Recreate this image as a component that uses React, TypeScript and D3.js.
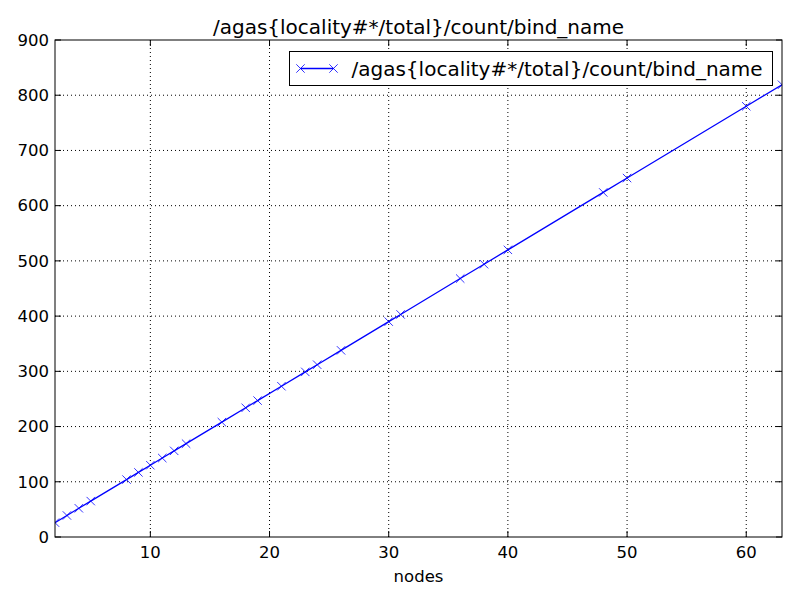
import { useRef, useEffect } from 'react'
import * as d3 from 'd3'

const nodes = [2, 3, 4, 5, 8, 9, 10, 11, 12, 13, 16, 18, 19, 21, 23, 24, 26, 30, 31, 36, 38, 40, 48, 50, 60, 63]
const counts = [26, 39, 52, 65, 104, 117, 130, 143, 156, 169, 208, 234, 247, 273, 299, 312, 338, 390, 403, 468, 494, 520, 624, 650, 780, 819]
const xTicks = [10, 20, 30, 40, 50, 60]
const yTicks = [0, 100, 200, 300, 400, 500, 600, 700, 800, 900]
const seriesName = '/agas{locality#*/total}/count/bind_name'

const App = () => {
  const svgRef = useRef<SVGSVGElement>(null)

  useEffect(() => {
    if (!svgRef.current) return
    const svg = d3.select(svgRef.current)
    svg.selectAll('*').remove()

    const width = 800
    const height = 600
    const margin = { top: 40, right: 18, bottom: 63, left: 55 }
    const w = width - margin.left - margin.right
    const h = height - margin.top - margin.bottom
    const font = 'DejaVu Sans, sans-serif'

    svg.attr('width', width).attr('height', height)
    svg.append('rect').attr('width', width).attr('height', height).attr('fill', '#fff')

    const x = d3.scaleLinear().domain([2, 63]).range([0, w])
    const y = d3.scaleLinear().domain([0, 900]).range([h, 0])

    const g = svg.append('g').attr('transform', `translate(${margin.left},${margin.top})`)

    // grid
    g.selectAll('.gx')
      .data(xTicks)
      .join('line')
      .attr('x1', d => x(d)).attr('x2', d => x(d))
      .attr('y1', 0).attr('y2', h)
      .attr('stroke', '#000').attr('stroke-width', 1)
      .attr('stroke-dasharray', '1,3')
    g.selectAll('.gy')
      .data(yTicks.slice(1, -1))
      .join('line')
      .attr('y1', d => y(d)).attr('y2', d => y(d))
      .attr('x1', 0).attr('x2', w)
      .attr('stroke', '#000').attr('stroke-width', 1)
      .attr('stroke-dasharray', '1,3')

    // series
    const pts = nodes.map((n, i) => [n, counts[i]] as [number, number])
    const clip = g.append('clipPath').attr('id', 'clip')
    clip.append('rect').attr('width', w).attr('height', h)
    const plot = g.append('g').attr('clip-path', 'url(#clip)')
    plot.append('path')
      .datum(pts)
      .attr('d', d3.line<[number, number]>().x(d => x(d[0])).y(d => y(d[1])))
      .attr('fill', 'none')
      .attr('stroke', '#0000ff')
      .attr('stroke-width', 1.3)
    const m = 4.2
    plot.selectAll('.mk')
      .data(pts)
      .join('path')
      .attr('d', d => {
        const cx = x(d[0]); const cy = y(d[1])
        return `M${cx - m},${cy - m}L${cx + m},${cy + m}M${cx - m},${cy + m}L${cx + m},${cy - m}`
      })
      .attr('stroke', '#0000ff')
      .attr('stroke-width', 0.8)

    // ticks (inside, all sides)
    const tl = 6
    xTicks.forEach(t => {
      g.append('line').attr('x1', x(t)).attr('x2', x(t)).attr('y1', h).attr('y2', h - tl).attr('stroke', '#000')
      g.append('line').attr('x1', x(t)).attr('x2', x(t)).attr('y1', 0).attr('y2', tl).attr('stroke', '#000')
      g.append('text').attr('x', x(t)).attr('y', h + 21)
        .attr('text-anchor', 'middle').attr('font-family', font).attr('font-size', 16.5).text(t)
    })
    yTicks.forEach(t => {
      g.append('line').attr('x1', 0).attr('x2', tl).attr('y1', y(t)).attr('y2', y(t)).attr('stroke', '#000')
      g.append('line').attr('x1', w).attr('x2', w - tl).attr('y1', y(t)).attr('y2', y(t)).attr('stroke', '#000')
      g.append('text').attr('x', -6).attr('y', y(t)).attr('dy', '0.35em')
        .attr('text-anchor', 'end').attr('font-family', font).attr('font-size', 16.5).text(t)
    })

    g.append('rect').attr('width', w).attr('height', h)
      .attr('fill', 'none').attr('stroke', '#000').attr('stroke-width', 1)

    // labels
    svg.append('text').attr('x', margin.left + w / 2).attr('y', 34)
      .attr('text-anchor', 'middle').attr('font-family', font).attr('font-size', 20).text(seriesName)
    svg.append('text').attr('x', margin.left + w / 2).attr('y', 582)
      .attr('text-anchor', 'middle').attr('font-family', font).attr('font-size', 16.5).text('nodes')

    // legend
    const lg = svg.append('g').attr('transform', 'translate(289.5,51.5)')
    lg.append('rect').attr('width', 483).attr('height', 34)
      .attr('fill', '#fff').attr('stroke', '#000').attr('stroke-width', 1)
    lg.append('line').attr('x1', 11).attr('x2', 44).attr('y1', 17).attr('y2', 17)
      .attr('stroke', '#0000ff').attr('stroke-width', 1.3)
    ;[11, 44].forEach(cx => {
      lg.append('path')
        .attr('d', `M${cx - m},${17 - m}L${cx + m},${17 + m}M${cx - m},${17 + m}L${cx + m},${17 - m}`)
        .attr('stroke', '#0000ff').attr('stroke-width', 0.8)
    })
    lg.append('text').attr('x', 62).attr('y', 17).attr('dy', '0.35em')
      .attr('font-family', font).attr('font-size', 20).text(seriesName)
  }, [])

  return <svg ref={svgRef} style={{ display: 'block', position: 'absolute', left: 0, top: 0 }} />
}

export default App
